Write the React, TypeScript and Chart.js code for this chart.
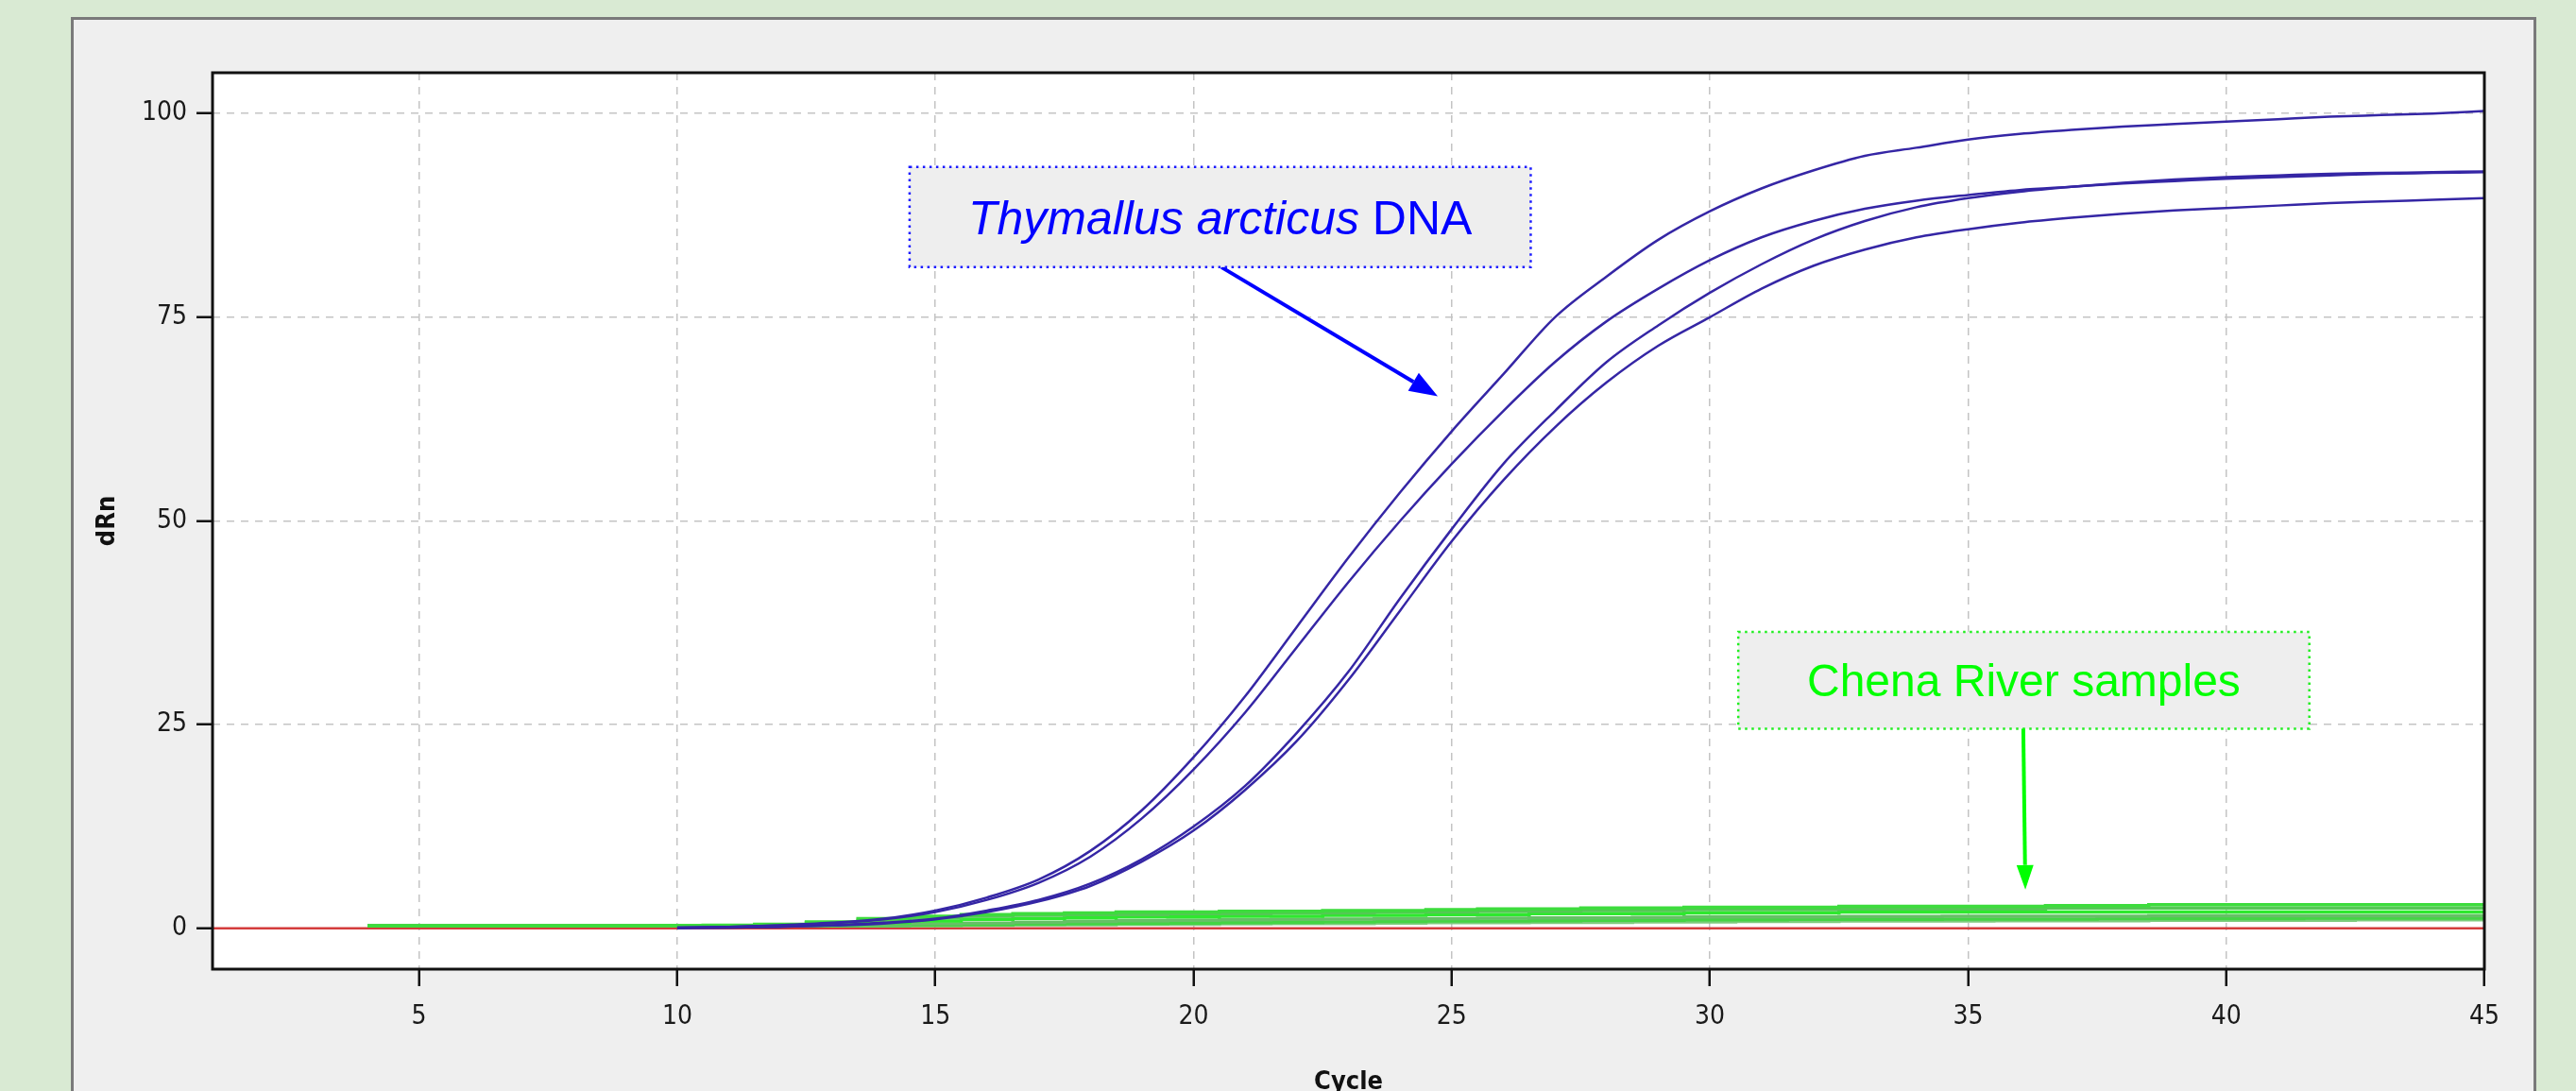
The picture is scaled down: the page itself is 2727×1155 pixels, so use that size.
import React, { useEffect, useRef } from "react";
import { Chart, registerables } from "chart.js";

Chart.register(...registerables);

const W = 2727;
const H = 1155;

// ---- data ----
const CYCLES = [
  1, 2, 3, 4, 5, 6, 7, 8, 9, 10, 11, 12, 13, 14, 15, 16, 17, 18, 19, 20, 21, 22, 23,
  24, 25, 26, 27, 28, 29, 30, 31, 32, 33, 34, 35, 36, 37, 38, 39, 40, 41, 42, 43, 44, 45,
];
const X_TICKS = [5, 10, 15, 20, 25, 30, 35, 40, 45];
const Y_TICKS = [0, 25, 50, 75, 100];
const X_MIN = 1;
const X_MAX = 45;
const Y_MIN = -5;
const Y_MAX = 105;
const THRESHOLD = 0;

const N9 = [null, null, null, null, null, null, null, null, null];
const N3 = [null, null, null];

// Thymallus arcticus DNA amplification curves (cycles 1..45)
const BLUE_A = [...N9,
  0.1, 0.2, 0.4, 0.7, 1.2, 2.2, 3.8, 6.0, 9.5, 14.5, 21, 28.5, 37, 45.5, 53.5, 61, 68, 75,
  80, 84.5, 88, 90.8, 93, 94.8, 95.8, 96.8, 97.5, 98, 98.4, 98.7, 99, 99.3, 99.6, 99.8, 100, 100.3];
const BLUE_B = [...N9,
  0.1, 0.2, 0.35, 0.65, 1.1, 2.0, 3.5, 5.6, 8.8, 13.5, 19.5, 26.5, 34.5, 42.5, 50, 57, 63.5, 69.5,
  74.5, 78.5, 82, 84.8, 86.8, 88.3, 89.3, 90, 90.6, 91, 91.4, 91.7, 92, 92.2, 92.4, 92.6, 92.7, 92.8];
const BLUE_C = [...N9,
  0.05, 0.1, 0.2, 0.4, 0.7, 1.2, 2.2, 3.5, 5.5, 8.5, 12.5, 17.5, 24, 31.5, 40.5, 49, 57, 63.5,
  69.5, 74, 78, 81.5, 84.5, 86.8, 88.5, 89.6, 90.4, 91, 91.5, 91.9, 92.2, 92.4, 92.6, 92.7, 92.8, 92.9];
const BLUE_D = [...N9,
  0.05, 0.1, 0.2, 0.35, 0.6, 1.1, 2.0, 3.3, 5.2, 8.2, 12, 17, 23, 30.5, 39, 47.5, 55, 61.5,
  67, 71.5, 75, 78.5, 81.3, 83.3, 84.8, 85.8, 86.6, 87.2, 87.7, 88.1, 88.4, 88.7, 89, 89.2, 89.4, 89.6];

// Chena River samples (cycles 1..45)
const GREEN_1 = [...N3,
  0.3, 0.3, 0.3, 0.3, 0.3, 0.3, 0.35, 0.4, 0.5, 0.8, 1.2, 1.5, 1.7, 1.8, 1.9, 2.0, 2.0, 2.1, 2.1, 2.2, 2.2,
  2.3, 2.4, 2.4, 2.5, 2.5, 2.6, 2.6, 2.6, 2.7, 2.7, 2.7, 2.7, 2.8, 2.8, 2.9, 2.9, 2.9, 2.9, 2.9, 2.9, 2.9];
const GREEN_2 = [...N3,
  0.3, 0.3, 0.3, 0.3, 0.3, 0.3, 0.3, 0.35, 0.45, 0.7, 1.0, 1.3, 1.5, 1.6, 1.7, 1.7, 1.8, 1.8, 1.9, 1.9, 2.0,
  2.0, 2.1, 2.1, 2.2, 2.2, 2.3, 2.3, 2.3, 2.4, 2.4, 2.4, 2.4, 2.5, 2.5, 2.5, 2.5, 2.5, 2.5, 2.5, 2.5, 2.5];
const GREEN_3 = [...N3,
  0.3, 0.3, 0.3, 0.3, 0.3, 0.3, 0.3, 0.3, 0.35, 0.5, 0.7, 0.9, 1.1, 1.2, 1.3, 1.4, 1.4, 1.5, 1.5, 1.6, 1.6,
  1.7, 1.7, 1.8, 1.8, 1.8, 1.9, 1.9, 1.9, 2.0, 2.0, 2.0, 2.0, 2.0, 2.0, 2.0, 2.0, 2.0, 2.0, 2.0, 2.0, 2.0];
const GREEN_4 = [...N3,
  0.3, 0.3, 0.3, 0.3, 0.3, 0.3, 0.3, 0.3, 0.3, 0.35, 0.45, 0.55, 0.65, 0.75, 0.85, 0.95, 1.0, 1.05, 1.1, 1.15, 1.2,
  1.2, 1.25, 1.3, 1.3, 1.35, 1.4, 1.4, 1.4, 1.45, 1.45, 1.5, 1.5, 1.5, 1.5, 1.55, 1.55, 1.55, 1.55, 1.55, 1.55, 1.55];
const GREEN_5 = [...N3,
  0.3, 0.3, 0.3, 0.3, 0.3, 0.3, 0.3, 0.3, 0.3, 0.3, 0.35, 0.4, 0.45, 0.5, 0.55, 0.6, 0.65, 0.7, 0.75, 0.8, 0.85,
  0.9, 0.9, 0.95, 1.0, 1.0, 1.05, 1.05, 1.1, 1.1, 1.1, 1.15, 1.15, 1.15, 1.2, 1.2, 1.2, 1.2, 1.25, 1.25, 1.25, 1.25];
const GREEN_6 = [...N3,
  0.3, 0.3, 0.3, 0.3, 0.3, 0.3, 0.3, 0.3, 0.3, 0.3, 0.3, 0.35, 0.4, 0.45, 0.45, 0.5, 0.5, 0.55, 0.6, 0.6, 0.65,
  0.7, 0.7, 0.75, 0.75, 0.8, 0.8, 0.85, 0.85, 0.9, 0.9, 0.9, 0.95, 0.95, 0.95, 1.0, 1.0, 1.0, 1.0, 1.05, 1.05, 1.05];

const BLUE_SERIES = [BLUE_A, BLUE_B, BLUE_C, BLUE_D];
const GREEN_SERIES = [GREEN_1, GREEN_2, GREEN_3, GREEN_4, GREEN_5, GREEN_6];
const GREEN_COLORS = ["#3ddc3d", "#55c855", "#2ee82e", "#66c066", "#44d444", "#7ccc7c"];

// annotations (data coordinates)
const BLUE_LABEL_ITALIC = "Thymallus arcticus";
const BLUE_LABEL_PLAIN = " DNA";
const BLUE_BOX = { x1: 14.5, x2: 26.53, yTop: 93.44, yBottom: 81.14 };
const BLUE_ARROW = { x1: 20.54, y1: 81.14, x2: 24.73, y2: 65.29 };
const GREEN_LABEL = "Chena River samples";
const GREEN_BOX = { x1: 30.55, x2: 41.61, yTop: 36.37, yBottom: 24.49 };
const GREEN_ARROW = { x1: 36.07, y1: 24.49, x2: 36.11, y2: 4.76 };

const X_TITLE = "Cycle";
const Y_TITLE = "dRn";

const TICK_FONT = "'DejaVu Sans Condensed', Roboto, sans-serif";
const ANNO_FONT = "'Liberation Sans', Arial, sans-serif";

function toPoints(vals: (number | null)[]) {
  const pts: { x: number; y: number }[] = [];
  CYCLES.forEach((c, i) => {
    const v = vals[i];
    if (v !== null && v !== undefined) pts.push({ x: c, y: v });
  });
  return pts;
}

function drawArrow(ctx: CanvasRenderingContext2D, x1: number, y1: number, x2: number, y2: number, color: string, lw: number, headLen: number, headW: number) {
  const ang = Math.atan2(y2 - y1, x2 - x1);
  const bx = x2 - Math.cos(ang) * headLen;
  const by = y2 - Math.sin(ang) * headLen;
  ctx.save();
  ctx.strokeStyle = color;
  ctx.fillStyle = color;
  ctx.lineWidth = lw;
  ctx.setLineDash([]);
  ctx.beginPath();
  ctx.moveTo(x1, y1);
  ctx.lineTo(bx, by);
  ctx.stroke();
  ctx.beginPath();
  ctx.moveTo(x2, y2);
  ctx.lineTo(bx + Math.sin(ang) * headW / 2, by - Math.cos(ang) * headW / 2);
  ctx.lineTo(bx - Math.sin(ang) * headW / 2, by + Math.cos(ang) * headW / 2);
  ctx.closePath();
  ctx.fill();
  ctx.restore();
}

export default function App() {
  const ref = useRef<HTMLCanvasElement>(null);

  useEffect(() => {
    const canvas = ref.current;
    if (!canvas) return;

    const framePlugin = {
      id: "frame",
      beforeDraw(chart: any) {
        const ctx = chart.ctx as CanvasRenderingContext2D;
        const a = chart.chartArea;
        ctx.save();
        ctx.fillStyle = "#d9ead3";
        ctx.fillRect(0, 0, W, H);
        ctx.fillStyle = "#efefef";
        ctx.fillRect(76, 19, 2608, H);
        ctx.strokeStyle = "#7a7a7a";
        ctx.lineWidth = 3;
        ctx.strokeRect(76.5, 19.5, 2607, H + 20);
        ctx.fillStyle = "#ffffff";
        ctx.fillRect(a.left, a.top, a.right - a.left, a.bottom - a.top);
        ctx.restore();
      },
      afterDraw(chart: any) {
        const ctx = chart.ctx as CanvasRenderingContext2D;
        const a = chart.chartArea;
        const xs = chart.scales.x;
        const ys = chart.scales.y;
        ctx.save();
        // plot border
        ctx.strokeStyle = "#111";
        ctx.lineWidth = 3;
        ctx.strokeRect(a.left, a.top, a.right - a.left, a.bottom - a.top);

        // axis titles
        ctx.fillStyle = "#111";
        ctx.font = `bold 27px ${TICK_FONT}`;
        ctx.textAlign = "center";
        ctx.textBaseline = "middle";
        ctx.fillText(X_TITLE, (a.left + a.right) / 2, 1146);
        ctx.save();
        ctx.translate(114, (a.top + a.bottom) / 2);
        ctx.rotate(-Math.PI / 2);
        ctx.fillText(Y_TITLE, 0, 0);
        ctx.restore();

        // blue annotation
        const bx1 = xs.getPixelForValue(BLUE_BOX.x1);
        const bx2 = xs.getPixelForValue(BLUE_BOX.x2);
        const by1 = ys.getPixelForValue(BLUE_BOX.yTop);
        const by2 = ys.getPixelForValue(BLUE_BOX.yBottom);
        drawArrow(ctx, xs.getPixelForValue(BLUE_ARROW.x1), ys.getPixelForValue(BLUE_ARROW.y1),
          xs.getPixelForValue(BLUE_ARROW.x2), ys.getPixelForValue(BLUE_ARROW.y2), "#0000ff", 4, 30, 22);
        ctx.fillStyle = "#eeeeee";
        ctx.fillRect(bx1, by1, bx2 - bx1, by2 - by1);
        ctx.strokeStyle = "#1a1aff";
        ctx.lineWidth = 2.5;
        ctx.setLineDash([2.5, 4.5]);
        ctx.strokeRect(bx1, by1, bx2 - bx1, by2 - by1);
        ctx.setLineDash([]);
        ctx.fillStyle = "#0000ff";
        ctx.textBaseline = "alphabetic";
        ctx.textAlign = "left";
        ctx.font = `italic 50px ${ANNO_FONT}`;
        const wI = ctx.measureText(BLUE_LABEL_ITALIC).width;
        ctx.font = `50px ${ANNO_FONT}`;
        const wP = ctx.measureText(BLUE_LABEL_PLAIN).width;
        const bcx = (bx1 + bx2) / 2;
        const bcy = (by1 + by2) / 2 + 18;
        const startX = bcx - (wI + wP) / 2;
        ctx.font = `italic 50px ${ANNO_FONT}`;
        ctx.fillText(BLUE_LABEL_ITALIC, startX, bcy);
        ctx.font = `50px ${ANNO_FONT}`;
        ctx.fillText(BLUE_LABEL_PLAIN, startX + wI, bcy);

        // green annotation
        const gx1 = xs.getPixelForValue(GREEN_BOX.x1);
        const gx2 = xs.getPixelForValue(GREEN_BOX.x2);
        const gy1 = ys.getPixelForValue(GREEN_BOX.yTop);
        const gy2 = ys.getPixelForValue(GREEN_BOX.yBottom);
        ctx.fillStyle = "#eeeeee";
        ctx.fillRect(gx1, gy1, gx2 - gx1, gy2 - gy1);
        ctx.strokeStyle = "#22ee22";
        ctx.lineWidth = 2.5;
        ctx.setLineDash([2.5, 4.5]);
        ctx.strokeRect(gx1, gy1, gx2 - gx1, gy2 - gy1);
        ctx.setLineDash([]);
        drawArrow(ctx, xs.getPixelForValue(GREEN_ARROW.x1), ys.getPixelForValue(GREEN_ARROW.y1),
          xs.getPixelForValue(GREEN_ARROW.x2), ys.getPixelForValue(GREEN_ARROW.y2), "#00ff00", 4, 26, 18);
        ctx.fillStyle = "#00ff00";
        ctx.font = `48px ${ANNO_FONT}`;
        ctx.textAlign = "center";
        ctx.textBaseline = "alphabetic";
        ctx.fillText(GREEN_LABEL, (gx1 + gx2) / 2, (gy1 + gy2) / 2 + 17);
        ctx.restore();
      },
    };

    const datasets: any[] = [];
    BLUE_SERIES.forEach((s, i) => {
      datasets.push({
        label: `Thymallus ${i + 1}`,
        data: toPoints(s),
        borderColor: "#3526a5",
        borderWidth: 2.5,
        pointRadius: 0,
        cubicInterpolationMode: "monotone",
        fill: false,
      });
    });
    GREEN_SERIES.forEach((s, i) => {
      datasets.push({
        label: `Chena ${i + 1}`,
        data: toPoints(s),
        borderColor: GREEN_COLORS[i],
        borderWidth: 3.5,
        pointRadius: 0,
        stepped: "middle",
        fill: false,
      });
    });
    datasets.push({
      label: "Threshold",
      data: [{ x: X_MIN, y: THRESHOLD }, { x: X_MAX, y: THRESHOLD }],
      borderColor: "#d43c3c",
      borderWidth: 2.5,
      pointRadius: 0,
      fill: false,
    });

    const chart = new Chart(canvas, {
      type: "line",
      data: { datasets },
      options: {
        animation: false,
        responsive: false,
        maintainAspectRatio: false,
        layout: { padding: { left: 0, top: 77, right: 97, bottom: 0 } },
        plugins: { legend: { display: false }, tooltip: { enabled: false } },
        scales: {
          x: {
            type: "linear",
            min: X_MIN,
            max: X_MAX,
            afterBuildTicks: (s: any) => { s.ticks = X_TICKS.map((v) => ({ value: v })); },
            afterFit: (s: any) => { s.height = 129; s.paddingLeft = 0; s.paddingRight = 0; },
            grid: { color: "#c4c4c4", lineWidth: 1.5, drawTicks: true, tickLength: 18, tickColor: "#111", tickWidth: 2.5, tickBorderDash: [] },
            border: { display: false, dash: [8, 7] },
            ticks: { color: "#1a1a1a", font: { family: TICK_FONT, size: 28 }, padding: 16, maxRotation: 0, autoSkip: false },
          },
          y: {
            type: "linear",
            min: Y_MIN,
            max: Y_MAX,
            afterBuildTicks: (s: any) => { s.ticks = Y_TICKS.map((v) => ({ value: v })); },
            afterFit: (s: any) => { s.width = 225; s.paddingTop = 0; s.paddingBottom = 0; },
            grid: { color: "#c4c4c4", lineWidth: 1.5, drawTicks: true, tickLength: 17, tickColor: "#111", tickWidth: 2.5, tickBorderDash: [] },
            border: { display: false, dash: [8, 7] },
            ticks: { color: "#1a1a1a", font: { family: TICK_FONT, size: 28 }, padding: 10 },
          },
        },
      },
      plugins: [framePlugin],
    });

    return () => chart.destroy();
  }, []);

  return (
    <div style={{ position: "fixed", left: 0, top: 0, width: W, height: H, background: "#d9ead3" }}>
      <canvas ref={ref} width={W} height={H} style={{ width: W, height: H, display: "block" }} />
    </div>
  );
}
